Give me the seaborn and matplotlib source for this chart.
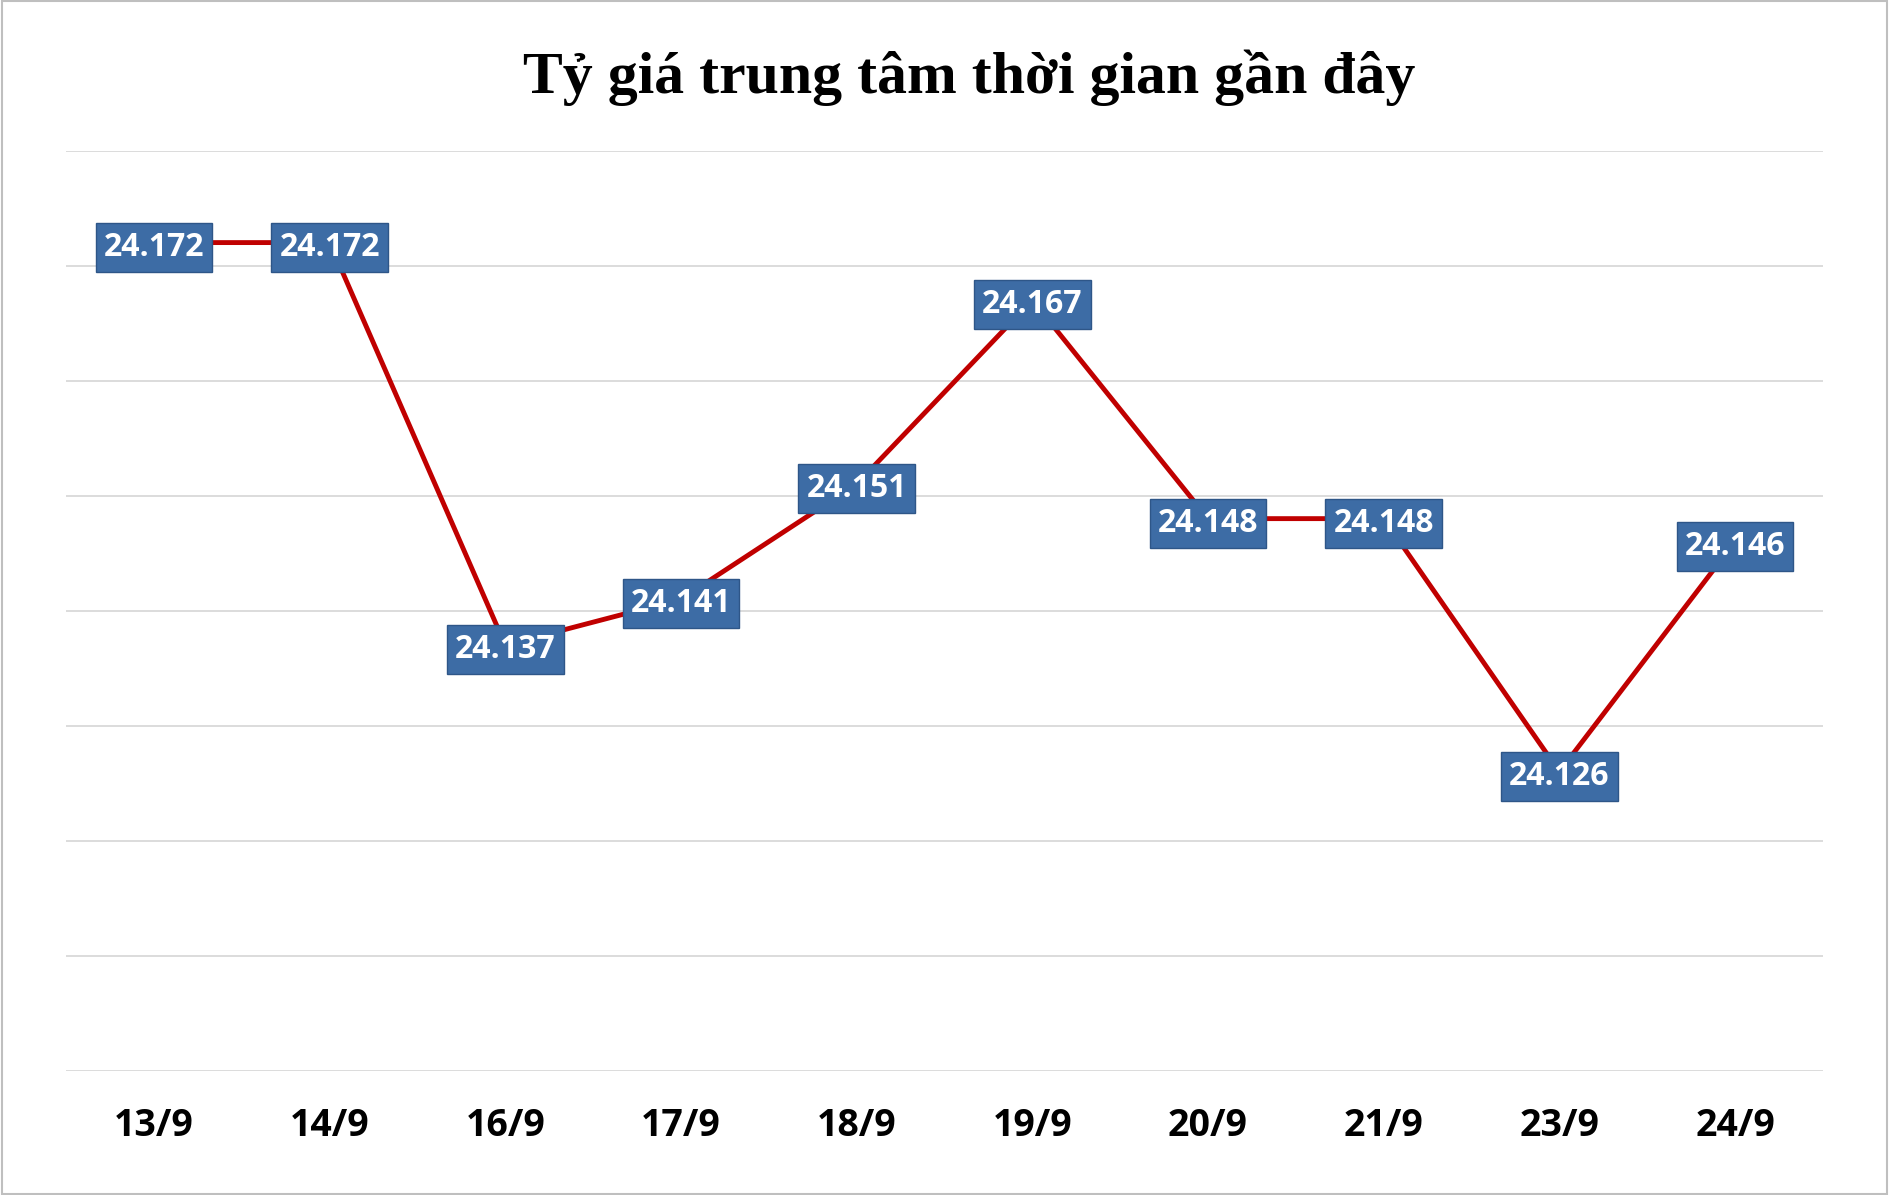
import matplotlib
matplotlib.use("Agg")
import matplotlib.pyplot as plt
import seaborn as sns
import pandas as pd

dates = ["13/9", "14/9", "16/9", "17/9", "18/9", "19/9", "20/9", "21/9", "23/9", "24/9"]
rates = [24.172, 24.172, 24.137, 24.141, 24.151, 24.167, 24.148, 24.148, 24.126, 24.146]

df = pd.DataFrame({"date": dates, "rate": rates})

sns.set_style("white")
fig = plt.figure(figsize=(18.89, 11.95), dpi=100)
ax = fig.add_axes([0.035, 0.104, 0.930, 0.770])

sns.lineplot(data=df, x="date", y="rate", sort=False, color="#C00000", linewidth=3.5, ax=ax)

for i, v in enumerate(rates):
    ax.text(i, v - 0.0004, f"{v:.3f}", ha="center", va="center", color="white",
            fontsize=23, fontweight="bold", family="Open Sans", zorder=5,
            bbox=dict(boxstyle="square,pad=0.25", facecolor="#3D6CA5",
                      edgecolor="#2E5688", linewidth=1))

ax.set_ylim(24.10, 24.18)
ax.set_xlim(-0.5, len(dates) - 0.5)
ax.set_yticks([24.10 + 0.01 * k for k in range(9)])
ax.set_yticklabels([])
ax.tick_params(axis="y", length=0)
ax.tick_params(axis="x", length=0, pad=26)
for lbl in ax.get_xticklabels():
    lbl.set_fontsize(27)
    lbl.set_fontweight("bold")
    lbl.set_family("Open Sans")
    lbl.set_color("black")
ax.grid(axis="y", color="#D9D9D9", linewidth=1.3)
for s in ax.spines.values():
    s.set_visible(False)
ax.set_xlabel("")
ax.set_ylabel("")

fig.text(0.513, 0.935, "Tỷ giá trung tâm thời gian gần đây", ha="center", va="center",
         fontsize=43, fontweight="bold", family="Liberation Serif", color="black")
fig.patches.append(plt.Rectangle((0.001, 0.001), 0.998, 0.998, transform=fig.transFigure,
                                 fill=False, edgecolor="#BFBFBF", linewidth=1.5))

fig.savefig("out.png", dpi=100)
